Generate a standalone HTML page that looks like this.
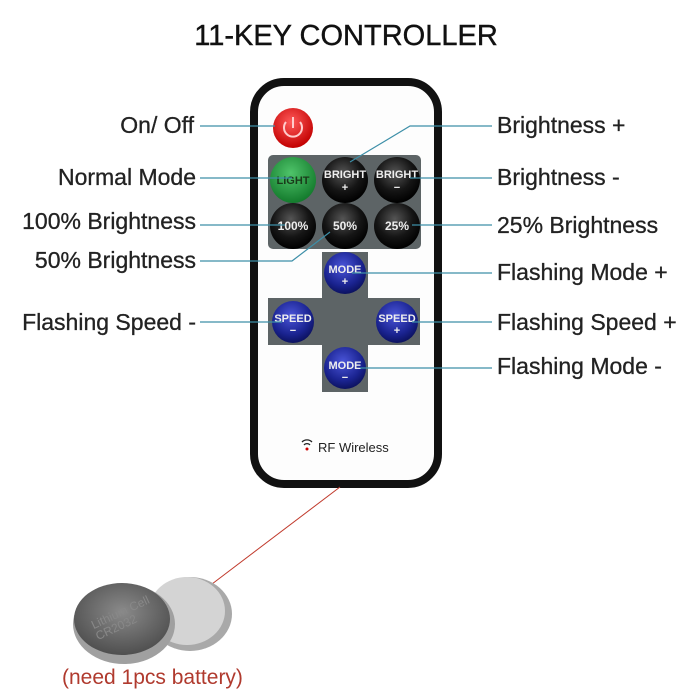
<!DOCTYPE html>
<html><head><style>
body{margin:0;background:#fff;}
svg{display:block;font-family:"Liberation Sans",sans-serif;}
</style></head><body>
<svg width="700" height="700" viewBox="0 0 700 700">
<defs>
<radialGradient id="blk" cx="45%" cy="35%" r="65%"><stop offset="0" stop-color="#555"/><stop offset="0.6" stop-color="#151515"/><stop offset="1" stop-color="#000"/></radialGradient>
<radialGradient id="blu" cx="45%" cy="35%" r="65%"><stop offset="0" stop-color="#4a55d8"/><stop offset="0.7" stop-color="#1a2390"/><stop offset="1" stop-color="#0c1260"/></radialGradient>
<radialGradient id="grn" cx="45%" cy="35%" r="65%"><stop offset="0" stop-color="#4fc46a"/><stop offset="1" stop-color="#137a2c"/></radialGradient>
<radialGradient id="red" cx="45%" cy="35%" r="65%"><stop offset="0" stop-color="#ff5a5a"/><stop offset="1" stop-color="#c20000"/></radialGradient>
<radialGradient id="bat" cx="50%" cy="40%" r="60%"><stop offset="0" stop-color="#8a8a8a"/><stop offset="1" stop-color="#4f4f4f"/></radialGradient>
</defs>
<text x="346" y="45" font-size="29" text-anchor="middle" fill="#111" stroke="#111" stroke-width="0.4">11-KEY CONTROLLER</text>
<rect x="254" y="82" width="184" height="402" rx="30" fill="#fdfdfd" stroke="#111" stroke-width="8"/>
<rect x="268" y="155" width="153" height="94" rx="5" fill="#5d6466"/>
<path d="M322 252h46v46h52v47h-52v47h-46v-47h-54v-47h54z" fill="#5d6466"/>
<circle cx="293" cy="128" r="20" fill="url(#red)"/>
<path d="M286 122a9 9 0 1 0 14 0" fill="none" stroke="#fcc" stroke-width="2"/><line x1="293" y1="117" x2="293" y2="128" stroke="#fcc" stroke-width="2"/>
<circle cx="293" cy="180" r="23" fill="url(#grn)"/>
<circle cx="345" cy="180" r="23" fill="url(#blk)"/>
<circle cx="397" cy="180" r="23" fill="url(#blk)"/>
<circle cx="293" cy="226" r="23" fill="url(#blk)"/>
<circle cx="345" cy="226" r="23" fill="url(#blk)"/>
<circle cx="397" cy="226" r="23" fill="url(#blk)"/>
<circle cx="345" cy="273" r="21" fill="url(#blu)"/>
<circle cx="293" cy="322" r="21" fill="url(#blu)"/>
<circle cx="397" cy="322" r="21" fill="url(#blu)"/>
<circle cx="345" cy="368" r="21" fill="url(#blu)"/>
<g font-size="11" font-weight="bold" fill="#eee" text-anchor="middle">
<text x="293" y="184" fill="#1a3a1a">LIGHT</text>
<text x="345" y="178">BRIGHT</text><text x="345" y="191">+</text>
<text x="397" y="178">BRIGHT</text><text x="397" y="191">−</text>
<text x="293" y="230" font-size="12">100%</text><text x="345" y="230" font-size="12">50%</text><text x="397" y="230" font-size="12">25%</text>
<text x="345" y="273">MODE</text><text x="345" y="285">+</text>
<text x="293" y="322">SPEED</text><text x="293" y="334">−</text>
<text x="397" y="322">SPEED</text><text x="397" y="334">+</text>
<text x="345" y="369">MODE</text><text x="345" y="381">−</text>
</g>
<text x="318" y="452" font-size="13" fill="#222">RF Wireless</text>
<path d="M302 442a7 7 0 0 1 10 0M304 445a4 4 0 0 1 6 0" fill="none" stroke="#222" stroke-width="1.3"/><circle cx="307" cy="449" r="1.5" fill="#c00"/>
<g stroke="#3d8fa8" stroke-width="1.2" fill="none">
<line x1="200" y1="126" x2="275" y2="126"/>
<polyline points="492,126 410,126 350,162"/>
<line x1="200" y1="178" x2="292" y2="178"/>
<line x1="410" y1="178" x2="492" y2="178"/>
<line x1="200" y1="225" x2="285" y2="225"/>
<polyline points="200,261 292,261 330,232"/>
<line x1="412" y1="225" x2="492" y2="225"/>
<line x1="352" y1="273" x2="492" y2="273"/>
<line x1="200" y1="322" x2="282" y2="322"/>
<line x1="412" y1="322" x2="492" y2="322"/>
<line x1="360" y1="368" x2="492" y2="368"/>
</g>
<g font-size="23" fill="#222" stroke="#222" stroke-width="0.3">
<text x="194" y="133" text-anchor="end">On/ Off</text>
<text x="196" y="185" text-anchor="end">Normal Mode</text>
<text x="196" y="229" text-anchor="end">100% Brightness</text>
<text x="196" y="268" text-anchor="end">50% Brightness</text>
<text x="196" y="330" text-anchor="end">Flashing Speed -</text>
<text x="497" y="133">Brightness +</text>
<text x="497" y="185">Brightness -</text>
<text x="497" y="233">25% Brightness</text>
<text x="497" y="280">Flashing Mode +</text>
<text x="497" y="330">Flashing Speed +</text>
<text x="497" y="374">Flashing Mode -</text>
</g>
<line x1="340" y1="487" x2="212" y2="584" stroke="#c0392b" stroke-width="1"/>
<ellipse cx="190" cy="614" rx="42" ry="37" fill="#a9a9a9"/>
<ellipse cx="187" cy="611" rx="38" ry="34" fill="#d4d4d4"/>
<ellipse cx="124" cy="624" rx="51" ry="40" fill="#a0a0a0"/>
<ellipse cx="122" cy="619" rx="48" ry="36" fill="url(#bat)"/>
<text x="122" y="616" font-size="12" fill="#888" text-anchor="middle" transform="rotate(-25 122 616)">Lithium Cell</text>
<text x="118" y="631" font-size="12" fill="#888" text-anchor="middle" transform="rotate(-25 118 631)">CR2032</text>
<text x="62" y="684" font-size="21" fill="#b03a2e">(need 1pcs battery)</text>
</svg>
</body></html>
